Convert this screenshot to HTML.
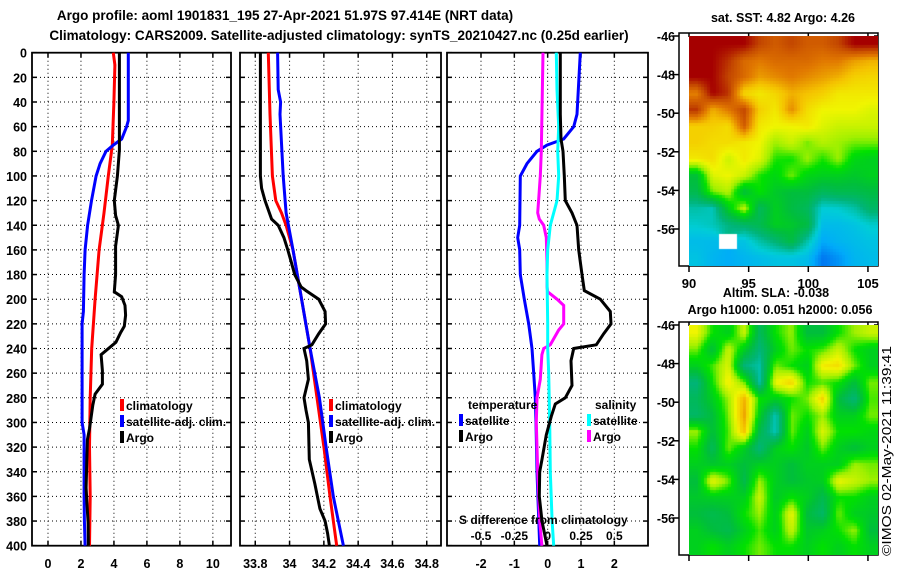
<!DOCTYPE html>
<html><head><meta charset="utf-8"><style>
html,body{margin:0;padding:0;background:#fff;width:900px;height:580px;overflow:hidden}
#root{position:relative;width:900px;height:580px}
svg text{font-family:"Liberation Sans",sans-serif;font-weight:bold}
canvas{position:absolute}
</style></head><body><div id="root">
<svg id="svg" width="900" height="580" style="position:absolute;left:0;top:0"></svg>
<canvas id="sst" width="189" height="230" style="left:689px;top:36px"></canvas>
<canvas id="sla" width="189" height="230" style="left:689px;top:325px"></canvas>
</div>
<script>
// ---- data: depths (m) and values ----
const argoTDepth=[0,79,100,120,132,140,157,180,194,198,205,213,222,227,235,245,258,269,277,286,297,305,314,353,372,381,400];
const argoT=[4.33,4.33,4.21,4.02,4.1,4.27,4.1,4.1,4.02,4.47,4.67,4.71,4.63,4.41,4.12,3.22,3.3,3.3,2.86,2.72,2.6,2.52,2.39,2.31,2.39,2.43,2.45];
const climTDepth=[0,10,40,75,100,130,160,200,240,280,320,360,400];
const climT=[3.96,4.06,4.0,3.9,3.66,3.4,3.1,2.86,2.65,2.56,2.52,2.56,2.52];
const satTDepth=[0,55,60,70,75,80,90,100,120,140,160,180,210,220,300,310,360,380,400];
const satT=[4.87,4.87,4.77,4.47,3.96,3.52,3.16,2.92,2.64,2.4,2.25,2.19,2.15,2.07,2.07,2.19,2.19,2.21,2.25];
const argoSDepth=[0,100,110,120,135,140,150,160,170,180,190,193,200,210,220,228,237,240,250,265,280,290,300,330,350,370,380,390,400];
const argoS=[33.83,33.83,33.837,33.857,33.895,33.934,33.967,33.99,34.01,34.03,34.067,34.096,34.17,34.207,34.21,34.17,34.13,34.084,34.1,34.11,34.084,34.096,34.11,34.115,34.148,34.177,34.207,34.222,34.232];
const climSDepth=[0,50,100,120,130,140,160,200,240,280,320,360,400];
const climS=[33.876,33.886,33.9,33.92,33.953,33.98,34.02,34.07,34.12,34.16,34.2,34.236,34.275];
const satSDepth=[0,30,40,50,100,130,160,200,240,280,320,360,400];
const satS=[33.93,33.934,33.948,33.944,33.963,33.98,34.02,34.07,34.12,34.174,34.213,34.255,34.314];
const dTsatDepth=[0,50,60,70,75,80,90,100,140,150,160,180,200,220,240,260,280,300,340,400];
const dTsat=[0.98,0.88,0.78,0.48,-0.02,-0.32,-0.62,-0.82,-0.84,-0.9,-0.84,-0.82,-0.7,-0.57,-0.47,-0.42,-0.37,-0.35,-0.32,-0.24];
const dTargoDepth=[0,50,70,80,100,120,130,140,160,180,193,200,210,220,228,237,240,250,270,280,285,295,310,330,340,360,380,400];
const dTargo=[0.38,0.38,0.4,0.46,0.5,0.53,0.73,0.88,0.93,1.03,1.1,1.58,1.88,1.9,1.68,1.46,0.78,0.7,0.73,0.53,0.23,0.11,-0.04,-0.17,-0.24,-0.25,-0.17,-0.02];
const dSsatDepth=[0,30,60,80,100,120,130,140,160,180,220,240,260,300,340,380,400];
const dSsat=[0.065,0.07,0.083,0.075,0.083,0.07,0.045,0.02,0,-0.005,0,0,0.008,0.015,0.02,0.033,0.045];
const dSargoDepth=[0,80,100,120,130,135,140,150,170,190,194,200,205,220,225,237,240,245,265,280,300,340,380,400];
const dSargo=[-0.035,-0.048,-0.055,-0.068,-0.075,-0.063,-0.03,-0.01,-0.005,-0.005,0,0.07,0.12,0.12,0.083,0.02,-0.03,-0.043,-0.055,-0.08,-0.085,-0.075,-0.06,-0.043];
const depthTicks=[0,20,40,60,80,100,120,140,160,180,200,220,240,260,280,300,320,340,360,380,400];
const tTicks=[0,2,4,6,8,10];
const sTicks=[33.8,34,34.2,34.4,34.6,34.8];
const dTicks=[-2,-1,0,1,2];
const dSTicks=[-0.5,-0.25,0,0.25,0.5];
const dSTickLabels=["-0.5","-0.25","0","0.25","0.5"];
const latTicks=[-46,-48,-50,-52,-54,-56];
const lonTicks=[90,95,100,105];
const sstGrid=[
[1,1,1,1,0.93,0.9,0.93,0.9,0.9,0.93,1,1],
[1,1,0.95,0.88,0.86,0.88,0.88,0.88,0.86,0.86,0.82,0.8],
[1,1,0.93,0.88,0.82,0.84,0.86,0.84,0.82,0.8,0.76,0.75],
[0.85,1,0.95,0.75,0.72,0.75,0.8,0.78,0.76,0.72,0.72,0.72],
[0.95,0.8,0.86,0.93,0.76,0.72,0.84,0.74,0.7,0.7,0.7,0.68],
[0.76,0.76,0.74,0.9,0.72,0.7,0.7,0.72,0.68,0.66,0.66,0.66],
[0.76,0.74,0.74,0.72,0.7,0.62,0.66,0.6,0.64,0.62,0.6,0.6],
[0.72,0.74,0.66,0.72,0.68,0.56,0.55,0.62,0.56,0.62,0.52,0.5],
[0.46,0.68,0.7,0.66,0.56,0.52,0.6,0.52,0.5,0.5,0.48,0.5],
[0.42,0.6,0.64,0.45,0.55,0.48,0.45,0.45,0.4,0.42,0.42,0.44],
[0.3,0.28,0.5,0.65,0.4,0.5,0.44,0.4,0.25,0.26,0.3,0.38],
[0.26,0.28,0.34,0.38,0.42,0.5,0.48,0.44,0.2,0.2,0.22,0.26],
[0.2,0.2,null,0.22,0.3,0.36,0.44,0.3,0.15,0.18,0.2,0.22],
[0.22,0.18,0.16,0.18,0.2,0.22,0.22,0.2,0.08,0.12,0.18,0.2]];
const slaGrid=[
[0.7,0.55,0.5,0.66,0.4,0.55,0.62,0.45,0.45,0.55,0.62,0.66],
[0.6,0.45,0.66,0.5,0.35,0.5,0.6,0.55,0.58,0.66,0.55,0.5],
[0.5,0.58,0.68,0.35,0.3,0.6,0.55,0.5,0.72,0.74,0.6,0.5],
[0.35,0.55,0.72,0.6,0.3,0.7,0.76,0.55,0.58,0.55,0.45,0.6],
[0.4,0.5,0.62,0.8,0.55,0.5,0.55,0.6,0.76,0.45,0.35,0.58],
[0.38,0.45,0.6,0.82,0.5,0.28,0.6,0.55,0.62,0.5,0.5,0.6],
[0.62,0.45,0.58,0.78,0.42,0.28,0.6,0.5,0.68,0.55,0.55,0.52],
[0.55,0.4,0.6,0.5,0.35,0.5,0.55,0.48,0.6,0.5,0.45,0.5],
[0.5,0.48,0.5,0.45,0.5,0.5,0.45,0.5,0.5,0.5,0.62,0.6],
[0.45,0.7,0.6,0.42,0.62,0.5,0.45,0.48,0.5,0.7,0.66,0.62],
[0.48,0.5,0.5,0.5,0.66,0.48,0.55,0.5,0.42,0.55,0.55,0.5],
[0.45,0.42,0.45,0.55,0.62,0.5,0.7,0.45,0.38,0.6,0.5,0.48],
[0.5,0.45,0.42,0.5,0.58,0.5,0.66,0.48,0.5,0.55,0.62,0.45],
[0.5,0.55,0.5,0.55,0.6,0.55,0.55,0.5,0.55,0.5,0.55,0.5]];

const NS="http://www.w3.org/2000/svg";
const svg=document.getElementById('svg');
function el(tag,attrs,parent){const e=document.createElementNS(NS,tag);for(const k in attrs)e.setAttribute(k,attrs[k]);(parent||svg).appendChild(e);return e;}
function txt(s,x,y,anchor,size,parent,fill){const t=el('text',{x:x,y:y,'text-anchor':anchor||'start','font-size':size||13,fill:fill||'#000'},parent);t.textContent=s;return t;}
const Y0=52.7,Y1=545.7;
const yD=d=>Y0+(d/400)*(Y1-Y0);

function panel(name,x0,x1,xmin,xmax,xt,xtl,showDepth){
  const g=el('g',{});
  
  
  const xs=v=>x0+(v-xmin)/(xmax-xmin)*(x1-x0);
  xt.forEach((v,i)=>{const l=el('line',{x1:xs(v),x2:xs(v),y1:Y0,y2:Y1,stroke:'#000','stroke-width':1,'stroke-dasharray':'1,3'},g);
    
    const t=txt(xtl?xtl[i]:String(v),xs(v),568,'middle',12.5,g);
    });
  depthTicks.forEach(d=>{const l=el('line',{x1:x0,x2:x1,y1:yD(d),y2:yD(d),stroke:'#000','stroke-width':1,'stroke-dasharray':'1,3'},g);
    
    el('line',{x1:x0,x2:x0+5,y1:yD(d),y2:yD(d),stroke:'#000','stroke-width':1.5},g);
    el('line',{x1:x1-5,x2:x1,y1:yD(d),y2:yD(d),stroke:'#000','stroke-width':1.5},g);
    if(showDepth){const t=txt(String(d),27,yD(d)+5,'end',12.5,g);}});
  xt.forEach(v=>{el('line',{x1:xs(v),x2:xs(v),y1:Y0,y2:Y0+5,stroke:'#000','stroke-width':1.5},g);el('line',{x1:xs(v),x2:xs(v),y1:Y1-5,y2:Y1,stroke:'#000','stroke-width':1.5},g);});
  const f=el('rect',{x:x0,y:Y0,width:x1-x0,height:Y1-Y0,fill:'none',stroke:'#000','stroke-width':1.8},g);
  
  return {g,xs};
}
function series(p,name,vals,depths,color,scale){
  const pts=vals.map((v,i)=>p.xs(v*(scale||1)).toFixed(1)+','+yD(depths[i]).toFixed(1)).join(' ');
  const l=el('polyline',{points:pts,fill:'none',stroke:color,'stroke-width':3,'stroke-linejoin':'miter'},p.g);
  
}
function legend(p,items,x,y){items.forEach((it,i)=>{
  const r=el('rect',{x:x,y:y+i*16-11,width:4,height:12,fill:it[1]},p.g);
  
  const t=txt(it[0],x+6,y+i*16,'start',12,p.g);});}

// titles
let t1=txt('Argo profile: aoml 1901831_195 27-Apr-2021 51.97S 97.414E (NRT data)',285,20,'middle',13.5);

let t2=txt('Climatology: CARS2009. Satellite-adjusted climatology: synTS_20210427.nc (0.25d earlier)',339,40,'middle',13.5);


const p1=panel('temperature-panel',32,231,-0.97,11.1,tTicks,null,true);
series(p1,'climatology-temp-line',climT,climTDepth,'#ff0000');
series(p1,'satellite-temp-line',satT,satTDepth,'#0000ff');
series(p1,'argo-temp-line',argoT,argoTDepth,'#000000');
legend(p1,[['climatology','#ff0000'],['satellite-adj. clim.','#0000ff'],['Argo','#000']],120,410);

const p2=panel('salinity-panel',240,441,33.711,34.883,sTicks,null,false);
series(p2,'climatology-sal-line',climS,climSDepth,'#ff0000');
series(p2,'satellite-sal-line',satS,satSDepth,'#0000ff');
series(p2,'argo-sal-line',argoS,argoSDepth,'#000000');
legend(p2,[['climatology','#ff0000'],['satellite-adj. clim.','#0000ff'],['Argo','#000']],329,410);

const p3=panel('difference-panel',447,648,-3.02,3.01,dTicks,null,false);
series(p3,'sat-temp-diff-line',dTsat,dTsatDepth,'#0000ff');
series(p3,'argo-sal-diff-line',dSargo,dSargoDepth,'#ff00ff',4);
series(p3,'sat-sal-diff-line',dSsat,dSsatDepth,'#00ffff',4);
series(p3,'argo-temp-diff-line',dTargo,dTargoDepth,'#000000');
let lt=txt('temperature',468,409,'start',12,p3.g);
let ls=txt('salinity',595,409,'start',12,p3.g);
legend(p3,[['satellite','#0000ff'],['Argo','#000']],459,425);
legend(p3,[['satellite','#00ffff'],['Argo','#ff00ff']],587,425);
let sd=txt('S difference from climatology',459,524,'start',12,p3.g);
dSTicks.forEach((v,i)=>{const t=txt(dSTickLabels[i],p3.xs(v*4),540,'middle',12,p3.g);});

// map axes
function mapAxes(name,top,bottom,labelsLon){
  const g=el('g',{});
  
  
  const latY=la=>top+(-46-la)*19.3;
  const lonX=lo=>689+(lo-90)*11.93;
  const f=el('rect',{x:679,y:top-3,width:199,height:bottom-top+3,fill:'none',stroke:'#000','stroke-width':1.5},g);
  
  latTicks.forEach(la=>{el('line',{x1:673,x2:679,y1:latY(la),y2:latY(la),stroke:'#000','stroke-width':1.5},g);
    el('line',{x1:874,x2:878,y1:latY(la),y2:latY(la),stroke:'#000','stroke-width':1.5},g);
    const t=txt(String(la),675,latY(la)+5,'end',12.5,g);});
  lonTicks.forEach(lo=>{el('line',{x1:lonX(lo),x2:lonX(lo),y1:bottom,y2:bottom+6,stroke:'#000','stroke-width':1.5},g);
    el('line',{x1:lonX(lo),x2:lonX(lo),y1:top-3,y2:top+1,stroke:'#000','stroke-width':1.5},g);
    if(labelsLon){const t=txt(String(lo),lonX(lo),288,'middle',13,g);}});
  return g;
}
mapAxes('sst-map-axes',36,266,true);
mapAxes('sla-map-axes',325,555,false);
let m1=txt('sat. SST: 4.82 Argo: 4.26',783,22,'middle',12.5);
let m2=txt('Altim. SLA: -0.038',776,297,'middle',12.5);
let m3=txt('Argo h1000: 0.051 h2000: 0.056',780,314,'middle',12.5);
let cp=el('text',{x:0,y:0,'font-size':13,transform:'translate(891,556) rotate(-90)',textLength:210,lengthAdjust:'spacingAndGlyphs',style:'font-weight:normal'});
cp.textContent='©IMOS 02-May-2021 11:39:41';


// colormap
const cmStops=[[0,[0,60,230]],[0.15,[0,170,250]],[0.25,[0,205,215]],[0.35,[0,180,120]],[0.45,[0,190,60]],[0.55,[0,225,0]],[0.62,[160,240,0]],[0.7,[240,245,0]],[0.78,[245,195,0]],[0.86,[225,120,0]],[0.93,[195,70,0]],[1,[165,0,0]]];
function cmap(v){v=Math.max(0,Math.min(1,v));for(let i=1;i<cmStops.length;i++){if(v<=cmStops[i][0]){const a=cmStops[i-1],b=cmStops[i],t=(v-a[0])/(b[0]-a[0]);return a[1].map((c,k)=>Math.round(c+(b[1][k]-c)*t));}}return cmStops[cmStops.length-1][1];}
function drawMap(id,grid){
  const c=document.getElementById(id),ctx=c.getContext('2d'),W=c.width,H=c.height;
  const img=ctx.createImageData(W,H);const R=grid.length,C=grid[0].length;
  const get=(r,cc)=>{r=Math.max(0,Math.min(R-1,r));cc=Math.max(0,Math.min(C-1,cc));return grid[r][cc];};
  for(let y=0;y<H;y++)for(let x=0;x<W;x++){
    const px=Math.floor(x/3)*3, py=Math.floor(y/3)*3;
    const fx=(px+1.5)/W*C-0.5, fy=(py+1.5)/H*R-0.5;
    const c0=Math.floor(fx),r0=Math.floor(fy),tx=fx-c0,ty=fy-r0;
    const nr=Math.round(fy),nc=Math.round(fx);
    let col;
    if(get(nr,nc)===null){col=[255,255,255];}
    else{const vals=[get(r0,c0),get(r0,c0+1),get(r0+1,c0),get(r0+1,c0+1)].map(v=>v===null?get(nr,nc):v);
      const v=(vals[0]*(1-tx)+vals[1]*tx)*(1-ty)+(vals[2]*(1-tx)+vals[3]*tx)*ty;col=cmap(v);}
    const i=(y*W+x)*4;img.data[i]=col[0];img.data[i+1]=col[1];img.data[i+2]=col[2];img.data[i+3]=255;}
  ctx.putImageData(img,0,0);
}
drawMap('sst',sstGrid);
drawMap('sla',slaGrid);
</script></body></html>
